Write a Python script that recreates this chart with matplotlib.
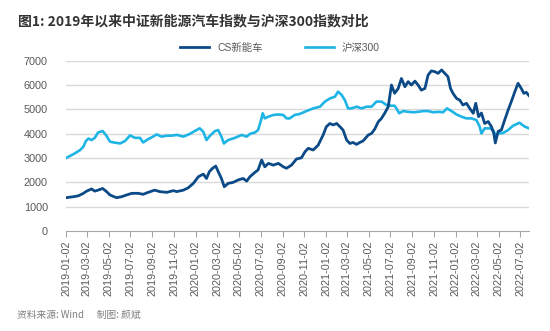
import matplotlib
matplotlib.use("Agg")
import matplotlib.pyplot as plt
import matplotlib.dates as mdates
import pandas as pd

plt.rcParams['font.family'] = ['Liberation Sans', 'Noto Sans CJK SC', 'DejaVu Sans']

title = "图1: 2019年以来中证新能源汽车指数与沪深300指数对比"
series_names = ["CS新能车", "沪深300"]
source_text = "资料来源: Wind      制图: 颜斌"

nev_dates = [
    "2019-01-02", "2019-01-23", "2019-02-06", "2019-02-20", "2019-03-01", "2019-03-15",
    "2019-03-24", "2019-04-02", "2019-04-15", "2019-04-26", "2019-05-06", "2019-05-24",
    "2019-06-07", "2019-06-21", "2019-07-06", "2019-07-24", "2019-08-07", "2019-08-21",
    "2019-09-08", "2019-09-23", "2019-10-12", "2019-10-31", "2019-11-09", "2019-11-28",
    "2019-12-12", "2019-12-26", "2020-01-09", "2020-01-23", "2020-02-01", "2020-02-09",
    "2020-02-18", "2020-02-27", "2020-03-05", "2020-03-14", "2020-03-22", "2020-04-02",
    "2020-04-16", "2020-04-30", "2020-05-14", "2020-05-24", "2020-06-02", "2020-06-16",
    "2020-06-25", "2020-07-05", "2020-07-14", "2020-07-24", "2020-08-07", "2020-08-21",
    "2020-09-04", "2020-09-13", "2020-09-27", "2020-10-11", "2020-10-25", "2020-11-04",
    "2020-11-13", "2020-11-27", "2020-12-11", "2020-12-25", "2021-01-03", "2021-01-13",
    "2021-01-22", "2021-02-01", "2021-02-10", "2021-02-19", "2021-03-01", "2021-03-10",
    "2021-03-19", "2021-03-29", "2021-04-07", "2021-04-16", "2021-05-01", "2021-05-10",
    "2021-05-19", "2021-05-29", "2021-06-07", "2021-06-16", "2021-06-26", "2021-07-05",
    "2021-07-14", "2021-07-24", "2021-08-02", "2021-08-12", "2021-08-21", "2021-08-30",
    "2021-09-09", "2021-09-18", "2021-09-27", "2021-10-07", "2021-10-16", "2021-10-25",
    "2021-11-04", "2021-11-13", "2021-11-23", "2021-12-02", "2021-12-11", "2021-12-18",
    "2021-12-25", "2022-01-04", "2022-01-13", "2022-01-22", "2022-02-01", "2022-02-10",
    "2022-02-20", "2022-02-27", "2022-03-07", "2022-03-15", "2022-03-24", "2022-04-03",
    "2022-04-12", "2022-04-19", "2022-04-23", "2022-05-01", "2022-05-10", "2022-05-19",
    "2022-05-29", "2022-06-07", "2022-06-17", "2022-06-26", "2022-07-05", "2022-07-12",
    "2022-07-19", "2022-07-27",
]
nev_values = [
    1370, 1410, 1450, 1550, 1640, 1730,
    1640, 1680, 1750, 1620, 1480, 1370,
    1410, 1480, 1550, 1550, 1510, 1590,
    1680, 1620, 1590, 1660, 1620, 1680,
    1780, 1960, 2230, 2340, 2160, 2440,
    2580, 2670, 2440, 2160, 1820, 1960,
    2000, 2100, 2160, 2050, 2230, 2410,
    2510, 2920, 2640, 2780, 2710, 2780,
    2640, 2580, 2710, 2960, 3010, 3260,
    3400, 3330, 3530, 3950, 4290, 4420,
    4360, 4420, 4290, 4150, 3740, 3600,
    3640, 3560, 3640, 3700, 3950, 4010,
    4190, 4490, 4630, 4840, 5110, 6000,
    5660, 5860, 6270, 5930, 6140, 6000,
    6160, 6000, 5790, 5860, 6410, 6580,
    6550, 6480, 6620, 6480, 6340, 5860,
    5660, 5450, 5380, 5180, 5250, 5040,
    4840, 5250, 4700, 4850, 4420, 4500,
    4290, 4000, 3620, 4100, 4150, 4550,
    4970, 5320, 5730, 6070, 5860, 5660,
    5700, 5560,
]

hs_dates = [
    "2019-01-02", "2019-01-23", "2019-02-11", "2019-02-20", "2019-02-27", "2019-03-06",
    "2019-03-15", "2019-03-24", "2019-04-02", "2019-04-15", "2019-04-24", "2019-05-06",
    "2019-05-20", "2019-06-03", "2019-06-17", "2019-07-01", "2019-07-15", "2019-07-29",
    "2019-08-07", "2019-08-21", "2019-08-31", "2019-09-14", "2019-09-28", "2019-10-12",
    "2019-10-26", "2019-11-09", "2019-11-28", "2019-12-16", "2019-12-30", "2020-01-13",
    "2020-01-23", "2020-02-01", "2020-02-11", "2020-02-25", "2020-03-05", "2020-03-14",
    "2020-03-21", "2020-04-02", "2020-04-21", "2020-05-10", "2020-05-24", "2020-06-02",
    "2020-06-16", "2020-06-25", "2020-07-02", "2020-07-08", "2020-07-14", "2020-07-24",
    "2020-08-07", "2020-08-21", "2020-09-04", "2020-09-13", "2020-09-22", "2020-10-06",
    "2020-10-20", "2020-11-08", "2020-11-27", "2020-12-16", "2020-12-30", "2021-01-13",
    "2021-01-27", "2021-02-05", "2021-02-15", "2021-02-24", "2021-03-05", "2021-03-15",
    "2021-03-29", "2021-04-12", "2021-04-26", "2021-05-10", "2021-05-24", "2021-06-07",
    "2021-06-21", "2021-07-05", "2021-07-14", "2021-07-27", "2021-08-07", "2021-08-21",
    "2021-09-04", "2021-09-18", "2021-10-02", "2021-10-16", "2021-10-30", "2021-11-13",
    "2021-11-27", "2021-12-08", "2021-12-21", "2022-01-04", "2022-01-18", "2022-02-01",
    "2022-02-15", "2022-03-01", "2022-03-10", "2022-03-15", "2022-03-24", "2022-04-07",
    "2022-04-17", "2022-04-24", "2022-05-01", "2022-05-15", "2022-05-29", "2022-06-12",
    "2022-06-30", "2022-07-15", "2022-07-27",
]
hs_values = [
    3000, 3160, 3330, 3470, 3700, 3800,
    3740, 3830, 4050, 4110, 3950, 3670,
    3630, 3600, 3700, 3930, 3830, 3830,
    3640, 3780, 3850, 3970, 3880, 3920,
    3920, 3950, 3880, 3990, 4110, 4220,
    4080, 3740, 3920, 4110, 4150, 3880,
    3600, 3740, 3830, 3950, 3880, 3990,
    4050, 4150, 4490, 4840, 4630, 4700,
    4770, 4790, 4770, 4630, 4630, 4770,
    4810, 4930, 5040, 5110, 5320, 5450,
    5520, 5730, 5590, 5380, 5040, 5040,
    5110, 5040, 5110, 5110, 5320, 5320,
    5180, 5150, 5150, 4840, 4930, 4900,
    4880, 4900, 4930, 4930, 4880, 4900,
    4880, 5040, 4930, 4790, 4700, 4630,
    4630, 4560, 4290, 4010, 4220, 4220,
    4150, 3920, 4010, 4030, 4150, 4330,
    4450, 4290, 4220,
]

y_ticks = [0, 1000, 2000, 3000, 4000, 5000, 6000, 7000]
x_tick_labels = [
    "2019-01-02", "2019-03-02", "2019-05-02", "2019-07-02", "2019-09-02", "2019-11-02",
    "2020-01-02", "2020-03-02", "2020-05-02", "2020-07-02", "2020-09-02", "2020-11-02",
    "2021-01-02", "2021-03-02", "2021-05-02", "2021-07-02", "2021-09-02", "2021-11-02",
    "2022-01-02", "2022-03-02", "2022-05-02", "2022-07-02",
]

dark = "#0b4a87"
light = "#1eb4e6"
gray_text = "#595959"

fig = plt.figure(figsize=(5.5, 3.31), dpi=100)
ax = fig.add_axes([0.12, 0.302, 0.842, 0.5146])

nev_x = pd.to_datetime(nev_dates)
hs_x = pd.to_datetime(hs_dates)
l1, = ax.plot(nev_x, nev_values, color=dark, lw=2.0, zorder=3, label=series_names[0])
l2, = ax.plot(hs_x, hs_values, color=light, lw=1.9, zorder=2, label=series_names[1])

ax.set_xlim(pd.Timestamp(nev_dates[0]), pd.Timestamp(nev_dates[-1]))
ax.set_ylim(0, 7000)
ax.set_yticks(y_ticks)
ax.set_yticklabels([str(v) for v in y_ticks], color=gray_text, fontsize=7.8)
ax.tick_params(axis='y', length=0, pad=13)

xt = pd.to_datetime(x_tick_labels)
ax.set_xticks(xt)
ax.set_xticklabels(x_tick_labels, rotation=90, color=gray_text, fontsize=7.8)
ax.tick_params(axis='x', length=4, color="#a6a6a6", width=0.8, pad=3)

for v in y_ticks[1:]:
    ax.axhline(v, color="#d9d9d9", lw=1.0, zorder=1)

for s in ["top", "right", "left"]:
    ax.spines[s].set_visible(False)
ax.spines["bottom"].set_color("#a6a6a6")
ax.spines["bottom"].set_linewidth(0.8)

fig.text(18 / 550, 1 - 21 / 331, title, fontsize=10, fontweight='bold', color="#333333",
         family=['Noto Sans CJK SC', 'DejaVu Sans'], va='center', ha='left')

fig.legend(handles=[l1, l2], labels=series_names, loc='center', ncol=2,
           bbox_to_anchor=(280 / 550, 1 - 48 / 331), frameon=False,
           prop={'family': ['Liberation Sans', 'Noto Sans CJK SC'], 'size': 7.5},
           labelcolor=gray_text, handlelength=2.8, columnspacing=4.0, handletextpad=0.8)

fig.text(17 / 550, 1 - 315 / 331, source_text, fontsize=7, color="#7f7f7f",
         family=['Noto Sans CJK SC', 'DejaVu Sans'], va='center', ha='left')

fig.savefig("out.png", dpi=100)
